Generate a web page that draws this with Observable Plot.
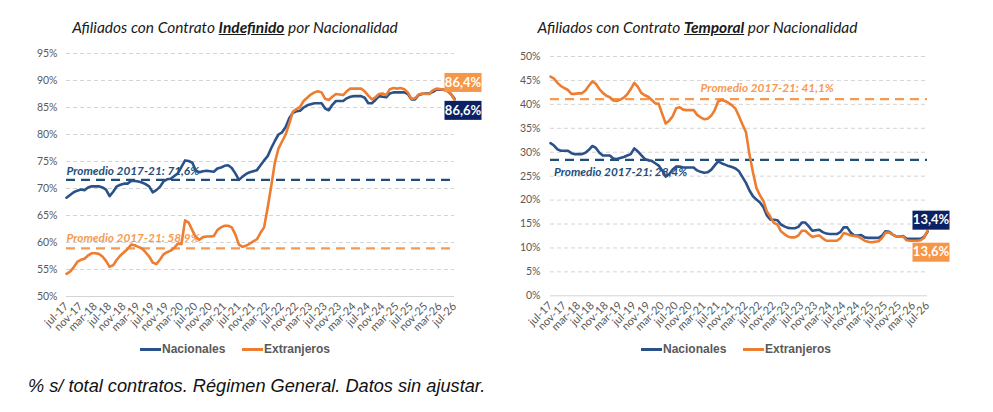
<!DOCTYPE html>
<html><head><meta charset="utf-8">
<script src="https://cdn.jsdelivr.net/npm/d3@7"></script>
<script src="https://cdn.jsdelivr.net/npm/@observablehq/plot@0.6"></script>
<style>
body{margin:0;background:#fff;}
#root{position:relative;width:993px;height:412px;background:#fff;overflow:hidden;}
.title{position:absolute;top:18px;font-family:Lato,sans-serif;font-style:italic;font-size:15.5px;color:#1a1a1a;text-align:center;line-height:18px;white-space:nowrap;}
.title b{font-weight:bold;text-decoration:underline;}
.chart{position:absolute;top:40px;}
.leg{position:absolute;top:341px;font-family:"Liberation Sans",Arial,sans-serif;font-weight:bold;font-size:12px;color:#595959;line-height:16px;white-space:nowrap;}
.sw{position:absolute;height:2.6px;}
.caption{position:absolute;left:28px;top:376px;font-family:"Liberation Sans",Arial,sans-serif;font-style:italic;font-size:18.2px;color:#111;white-space:nowrap;}
</style>
</head><body>
<div id="root">
  <div class="title" style="left:0;width:470px;">Afiliados con Contrato <b>Indefinido</b> por Nacionalidad</div>
  <div class="title" style="left:497px;width:401px;">Afiliados con Contrato <b>Temporal</b> por Nacionalidad</div>
  <div id="c1" class="chart" style="left:0;"></div>
  <div id="c2" class="chart" style="left:496px;"></div>
  <div id="leg1"></div>
  <div id="leg2"></div>
  <div class="caption">% s/ total contratos. Régimen General. Datos sin ajustar.</div>
</div>
<script>
// ---- Data (monthly, jul-17 .. jul-26) ----
const tickLabels = ["jul-17","nov-17","mar-18","jul-18","nov-18","mar-19","jul-19","nov-19","mar-20","jul-20","nov-20","mar-21","jul-21","nov-21","mar-22","jul-22","nov-22","mar-23","jul-23","nov-23","mar-24","jul-24","nov-24","mar-25","jul-25","nov-25","mar-26","jul-26"];
const seriesNames = ["Nacionales","Extranjeros"];

const indefNacionales = [68.3,68.8,69.3,69.6,69.8,69.7,70.2,70.4,70.4,70.4,
70.2,69.8,68.6,69.4,70.4,70.7,70.9,70.9,71.4,71.4,
71.3,71.1,70.8,70.4,69.3,69.7,70.3,71.3,71.7,71.8,
72.3,72.8,74.0,75.2,75.1,74.8,73.3,73.0,73.2,73.3,
73.2,73.1,73.7,73.9,74.2,74.3,73.8,72.8,71.6,72.2,
72.7,73.0,73.2,73.4,74.3,75.2,76.0,77.5,78.8,80.0,
80.4,81.4,83.0,84.0,84.3,84.4,85.0,85.4,85.6,85.8,
85.8,85.8,84.8,84.5,85.5,86.2,86.2,86.2,86.7,87.0,
87.1,87.1,87.1,86.8,85.8,85.8,86.4,87.1,87.0,86.9,
87.6,87.8,87.8,87.8,87.8,87.5,86.5,86.5,87.3,87.5,
87.6,87.6,87.9,88.3,88.3,88.3,88.1,87.5,86.6];

const indefExtranjeros = [54.2,54.6,55.4,56.4,56.8,57.0,57.6,58.0,58.0,57.9,
57.4,56.6,55.5,55.8,56.8,57.6,58.2,58.8,59.6,59.5,
59.2,58.9,58.2,57.4,56.3,56.0,56.8,57.8,58.2,58.5,
59.0,59.8,59.7,64.1,63.7,62.3,61.0,60.5,61.0,61.1,
61.1,61.2,62.3,62.8,63.1,63.1,62.8,61.5,59.6,59.2,
59.4,59.8,60.2,60.6,61.8,62.8,66.5,70.5,74.8,77.4,
78.7,80.0,82.0,84.2,84.7,85.1,86.2,86.8,87.4,87.8,
88.0,87.8,86.6,86.4,87.0,87.5,87.4,87.3,88.0,88.5,
88.5,88.5,88.5,88.0,87.2,86.5,86.9,87.5,87.6,87.3,
88.4,88.6,88.5,88.6,88.4,87.8,86.6,86.7,87.4,87.6,
87.5,87.5,88.2,88.5,88.4,88.3,88.0,87.5,86.4];

const tempNacionales = [31.9,31.4,30.6,30.3,30.3,30.3,29.8,29.6,29.6,29.6,
29.9,30.5,31.3,30.9,29.9,29.3,29.3,29.3,28.7,28.6,
28.8,29.0,29.3,29.6,30.8,30.2,29.4,28.6,28.3,28.2,
27.7,27.2,26.2,24.9,25.4,26.4,27.0,27.0,26.8,26.8,
26.8,26.8,26.2,25.9,25.7,25.8,26.3,27.2,28.1,27.7,
27.4,27.1,26.9,26.6,26.0,24.8,23.6,22.0,20.8,20.1,
19.5,18.5,16.8,15.9,15.9,15.8,14.9,14.5,14.2,14.1,
14.1,14.4,15.3,15.3,14.5,13.6,13.7,13.8,13.3,13.0,
12.9,12.9,12.9,13.3,14.3,14.3,13.2,12.6,12.6,12.7,
12.2,12.1,12.1,12.1,12.1,12.6,13.5,13.4,12.8,12.4,
12.4,12.5,11.9,11.9,11.9,11.9,11.9,12.3,13.4];

const tempExtranjeros = [45.8,45.4,44.5,43.8,43.4,43.0,42.2,42.2,42.3,42.3,
42.9,43.9,44.8,44.3,43.2,42.4,41.8,41.5,40.8,40.7,
41.0,41.4,42.1,43.2,44.5,43.7,42.4,41.9,41.6,40.9,
40.2,40.1,38.0,36.0,36.6,37.5,39.2,39.4,38.9,38.8,
38.8,38.8,37.8,37.3,36.9,37.0,37.6,38.7,40.6,40.9,
40.7,40.3,39.8,39.1,37.5,35.8,34.2,29.5,25.8,22.5,
21.0,19.8,17.6,16.5,15.2,14.9,13.5,12.9,12.4,12.2,
12.2,12.6,13.6,13.6,12.9,12.3,12.5,12.6,12.0,11.5,
11.5,11.5,11.5,12.0,13.1,12.9,12.6,12.5,12.4,12.0,
11.5,11.3,11.2,11.3,11.4,12.1,13.2,13.2,12.8,12.4,
12.4,12.4,11.6,11.5,11.5,11.5,11.6,12.1,13.6];

const indefAverages = [71.6, 58.9];   // Nacionales, Extranjeros (2017-21)
const tempAverages = [28.4, 41.1];
const indefEndLabels = ["86,6%","86,4%"];
const tempEndLabels = ["13,4%","13,6%"];
const indefYTicks = [50,55,60,65,70,75,80,85,90,95];
const tempYTicks = [0,5,10,15,20,25,30,35,40,45,50];

// ---- Styles ----
const NAVY = "#2b5189", ORANGE = "#ed7d31";
const NAVY_AVG = "#1f4e79", ORANGE_AVG = "#f59a52";
const NAVY_BOX = "#0a2263", ORANGE_BOX = "#f79646";

function boxLabel(datum, opts) {
  const W = 37, H = 19;
  return Plot.text([datum], {
    x: "x", y: "y", text: "label", dx: opts.dx, dy: opts.dy,
    fill: "white", fontWeight: "bold", fontSize: 13, fontFamily: "Lato, sans-serif",
    render: (index, scales, values, dimensions, context, next) => {
      const g = next(index, scales, values, dimensions, context);
      const ns = "http://www.w3.org/2000/svg";
      for (const i of index) {
        const r = document.createElementNS(ns, "rect");
        r.setAttribute("x", values.x[i] - W / 2);
        r.setAttribute("y", values.y[i] - H / 2);
        r.setAttribute("width", W);
        r.setAttribute("height", H);
        r.setAttribute("fill", opts.box);
        g.insertBefore(r, g.firstChild);
      }
      return g;
    }
  });
}

function chart(cfg) {
  const n = cfg.nac.length - 1;
  const idx = tickLabels.map((_, i) => i * 4);
  const avgTxt = v => "Promedio 2017-21: " + v.toFixed(1).replace(".", ",") + "%";
  return Plot.plot({
    width: cfg.width, height: 305,
    marginLeft: cfg.ml, marginRight: cfg.mr, marginTop: cfg.mt, marginBottom: cfg.mb,
    style: {overflow: "visible", background: "transparent"},
    x: {domain: [0, n]},
    y: {domain: cfg.yDomain},
    marks: [
      Plot.gridY(cfg.yTicks.slice(1), {stroke: "#d4d4d4", strokeOpacity: 1, strokeDasharray: "4,3"}),
      Plot.ruleY([cfg.yDomain[0]], {stroke: "#d4d4d4"}),
      Plot.axisY(cfg.yTicks, {label: null, tickSize: 0, tickPadding: cfg.ypad, tickFormat: d => d + "%", fill: "#595959", fontSize: 10.5, fontFamily: "Lato, sans-serif"}),
      Plot.axisX(idx, {label: null, tickSize: 0, tickPadding: 8, tickRotate: -45, tickFormat: i => tickLabels[i / 4], fill: "#595959", fontSize: 11, fontFamily: "Lato, sans-serif"}),
      Plot.ruleY([cfg.avg[0]], {stroke: NAVY_AVG, strokeWidth: 2.2, strokeDasharray: "9,6"}),
      Plot.ruleY([cfg.avg[1]], {stroke: ORANGE_AVG, strokeWidth: 2.2, strokeDasharray: "9,6"}),
      Plot.text([{x: cfg.avgPos[0], y: cfg.avg[0], t: avgTxt(cfg.avg[0])}], {x: "x", y: "y", text: "t", dy: cfg.avgDy[0], textAnchor: "start", fill: NAVY_AVG, fontWeight: "bold", fontStyle: "italic", fontSize: 11.8, fontFamily: "Lato, sans-serif"}),
      Plot.text([{x: cfg.avgPos[1], y: cfg.avg[1], t: avgTxt(cfg.avg[1])}], {x: "x", y: "y", text: "t", dy: cfg.avgDy[1], textAnchor: "start", fill: ORANGE_AVG, fontWeight: "bold", fontStyle: "italic", fontSize: 11.8, fontFamily: "Lato, sans-serif"}),
      Plot.line(cfg.nac, {x: (d, i) => i, y: d => d, stroke: NAVY, strokeWidth: 2.6}),
      Plot.line(cfg.ext, {x: (d, i) => i, y: d => d, stroke: ORANGE, strokeWidth: 2.6}),
      boxLabel({x: n, y: cfg.nac[n], label: cfg.end[0]}, {dx: cfg.endDx, dy: cfg.endDy[0], box: NAVY_BOX}),
      boxLabel({x: n, y: cfg.ext[n], label: cfg.end[1]}, {dx: cfg.endDx, dy: cfg.endDy[1], box: ORANGE_BOX})
    ]
  });
}

document.getElementById("c1").append(chart({
  nac: indefNacionales, ext: indefExtranjeros, yDomain: [50, 95], yTicks: indefYTicks,
  width: 496, ml: 66, mr: 42, mt: 13, mb: 49, ypad: 9,
  avg: indefAverages, avgPos: [0, 0], avgDy: [-9, -10],
  end: indefEndLabels, endDx: 8.5, endDy: [11.5, -17.5]
}));
document.getElementById("c2").append(chart({
  nac: tempNacionales, ext: tempExtranjeros, yDomain: [0, 50], yTicks: tempYTicks,
  width: 497, ml: 54, mr: 66, mt: 16, mb: 49.7, ypad: 10,
  avg: tempAverages, avgPos: [1, 43], avgDy: [12.5, -11],
  end: tempEndLabels, endDx: 3.5, endDy: [-11.5, 21.5]
}));

function legend(el, left) {
  const items = [[seriesNames[0], NAVY, 0], [seriesNames[1], ORANGE, 102]];
  for (const [name, color, off] of items) {
    const sw = document.createElement("div");
    sw.className = "sw";
    sw.style.cssText = `left:${left + off}px;top:348px;width:21px;background:${color};`;
    const t = document.createElement("div");
    t.className = "leg";
    t.style.left = (left + off + 22) + "px";
    t.textContent = name;
    el.append(sw, t);
  }
}
legend(document.getElementById("leg1"), 140);
legend(document.getElementById("leg2"), 641);
</script>
</body></html>
